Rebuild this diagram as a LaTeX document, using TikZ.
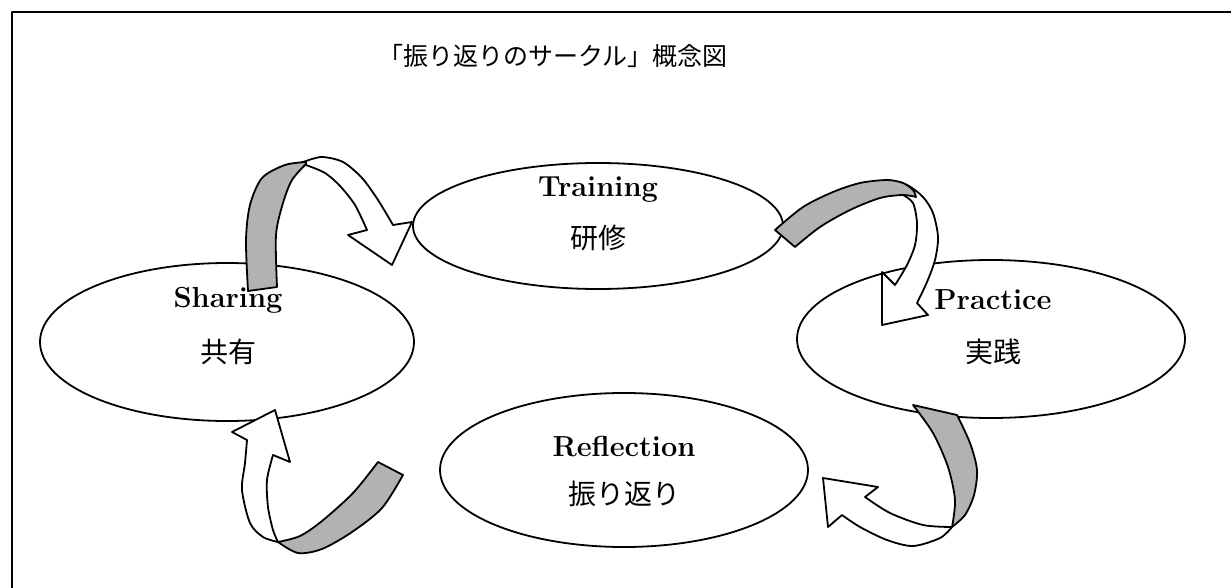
\documentclass[tikz,border=0pt]{standalone}
\usepackage{fontspec}
\newfontfamily\jp{Noto Sans CJK JP}
\usetikzlibrary{shapes.geometric}
\begin{document}
\begin{tikzpicture}[x=1pt,y=-1pt,line join=round,
  oval/.style={draw,ellipse,line width=1.8pt,inner sep=0pt},
  entext/.style={font=\fontsize{29}{34}\selectfont\bfseries},
  jptext/.style={font=\fontsize{28}{34}\selectfont\jp},
  ribbon/.style={draw,line width=1.8pt,fill=white},
  backside/.style={draw,line width=1.8pt,fill=black!30}]
\useasboundingbox (0,0) rectangle (1231,588);
% frame
\draw[line width=1.3pt] (12,588) -- (12,12) -- (1231,12);
% title
\node[font=\fontsize{25}{30}\selectfont\jp] (title) at (553,56) {「振り返りのサークル」概念図};
% ellipses
\node[oval,minimum width=370pt,minimum height=126pt] (training) at (598,226) {};
\node[oval,minimum width=374pt,minimum height=158pt] (sharing) at (227,342) {};
\node[oval,minimum width=388pt,minimum height=158pt] (practice) at (991,339) {};
\node[oval,minimum width=368pt,minimum height=154pt] (reflection) at (624,470) {};
% labels
\node[entext] (tE) at (598,190) {Training};
\node[jptext] (tJ) at (598,238) {研修};
\node[entext] (sE) at (228,300) {Sharing};
\node[jptext] (sJ) at (228,352) {共有};
\node[entext] (pE) at (993,300) {Practice};
\node[jptext] (pJ) at (993,352) {実践};
\node[entext] (rE) at (624,447) {Reflection};
\node[jptext] (rJ) at (624,494) {振り返り};
% arrow 1: Sharing -> Training
\path[ribbon] (300,163) -- plot[smooth] coordinates {(306,161) (322,157) (343,162) (362,178) (378,200) (393,225)}
  -- (412,222) -- (392,265) -- (348,235)
  -- plot[smooth] coordinates {(367,230) (355,205) (340,186) (325,173) (306,165)} -- cycle;
\path[backside] plot[smooth] coordinates {(248,291) (246,240) (250,205) (262,178) (285,165) (306,162)}
  -- plot[smooth] coordinates {(306,164) (292,180) (283,203) (276,235) (277,287)} -- cycle;
% arrow 2: Training -> Practice
\path[ribbon] plot[smooth] coordinates {(887,180) (907,185) (923,197) (933,213) (938,237) (935,260) (927,282) (917,303)}
  -- (928,315) -- (882,325) -- (882,272)
  -- plot[smooth] coordinates {(895,285) (907,265) (915,245) (917,223) (913,203) (903,195)} -- cycle;
\path[backside] plot[smooth] coordinates {(775,230) (803,207) (833,192) (860,183) (887,180) (903,183) (913,190) (916,197)}
  -- plot[smooth] coordinates {(916,197) (903,195) (880,198) (850,210) (820,227) (795,247)} -- cycle;
% arrow 3: Practice -> Reflection
\path[ribbon] plot[smooth] coordinates {(952,527) (940,538) (913,546) (887,540) (860,527) (842,515)}
  -- (828,527) -- (823,478) -- (878,487)
  -- plot[smooth] coordinates {(865,497) (890,513) (923,525) (952,527)} -- cycle;
\path[backside] plot[smooth] coordinates {(913,405) (933,433) (948,467) (955,500) (952,527)}
  -- plot[smooth] coordinates {(952,527) (965,515) (974,495) (977,470) (970,443) (957,415)} -- cycle;
% arrow 4: Reflection -> Sharing
\path[ribbon] plot[smooth] coordinates {(278,542) (263,537) (250,523) (242,490) (245,463) (247,440)}
  -- (232,432) -- (275,410) -- (290,462)
  -- plot[smooth] coordinates {(273,455) (267,480) (268,507) (273,530) (278,542)} -- cycle;
\path[backside] plot[smooth] coordinates {(378,462) (353,493) (322,521) (300,536) (278,542)}
  -- plot[smooth] coordinates {(278,542) (298,553) (322,549) (352,532) (382,508) (403,475)} -- cycle;
\end{tikzpicture}
\end{document}
